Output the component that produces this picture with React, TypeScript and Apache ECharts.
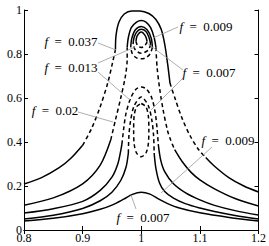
import React, { useEffect, useRef } from "react";
import * as echarts from "echarts";

// ---- data (x = frequency ratio, y = amplitude) ----
const xTicks = [0.8, 0.9, 1, 1.1, 1.2];
const yTicks = [0, 0.2, 0.4, 0.6, 0.8, 1];

// f = 0.037
const f037SolidL = [[0.80,0.209],[0.83,0.238],[0.86,0.283],[0.88,0.326],[0.90,0.385]];
const f037DashL = [[0.90,0.385],[0.915,0.46],[0.93,0.56],[0.943,0.67],[0.951,0.76],[0.956,0.82]];
const f037SolidTop = [[0.956,0.82],[0.957,0.885],[0.962,0.945],[0.971,0.982],[0.984,0.996],[0.998,0.996],[1.013,0.984],[1.025,0.957],[1.034,0.912],[1.04,0.845],[1.045,0.755],[1.049,0.668]];
const f037DashR = [[1.049,0.668],[1.058,0.595],[1.07,0.505],[1.084,0.425],[1.098,0.365],[1.11,0.33]];
const f037SolidR = [[1.11,0.33],[1.125,0.29],[1.15,0.237],[1.175,0.2],[1.2,0.173]];

// f = 0.02
const f02SolidL = [[0.80,0.113],[0.85,0.146],[0.90,0.21],[0.93,0.295],[0.948,0.41]];
const f02DashL = [[0.948,0.41],[0.956,0.5],[0.965,0.6],[0.973,0.7],[0.976,0.78],[0.976,0.83]];
const f02SolidTop = [[0.976,0.83],[0.978,0.875],[0.983,0.92],[0.992,0.945],[1.0,0.952],[1.008,0.945],[1.016,0.92],[1.022,0.875],[1.025,0.83]];
const f02DashR = [[1.025,0.83],[1.027,0.74],[1.031,0.65],[1.037,0.55],[1.045,0.45],[1.05,0.41],[1.057,0.365]];
const f02SolidR = [[1.057,0.365],[1.07,0.31],[1.085,0.262],[1.1,0.228],[1.125,0.187],[1.16,0.143],[1.2,0.109]];

// f = 0.013
const f013IsoSolid = [[0.982,0.83],[0.984,0.872],[0.99,0.91],[1.0,0.925],[1.01,0.91],[1.017,0.872],[1.019,0.83]];
const f013IsoDash = [[1.019,0.83],[1.015,0.8],[1.007,0.782],[1.0,0.778],[0.992,0.782],[0.985,0.8],[0.982,0.83]];
const f013SolidL = [[0.80,0.077],[0.85,0.097],[0.9,0.13],[0.93,0.18],[0.95,0.24],[0.96,0.3],[0.965,0.36],[0.967,0.39]];
const f013DashArch = [[0.967,0.39],[0.97,0.46],[0.974,0.53],[0.982,0.6],[0.991,0.64],[1.0,0.65],[1.009,0.64],[1.018,0.6],[1.024,0.53],[1.027,0.46],[1.029,0.39]];
const f013SolidR = [[1.029,0.39],[1.033,0.32],[1.04,0.265],[1.055,0.21],[1.075,0.17],[1.1,0.137],[1.125,0.112],[1.16,0.088],[1.2,0.068]];

// f = 0.009
const f009IsoSolid = [[0.986,0.845],[0.988,0.877],[0.993,0.902],[1.0,0.912],[1.008,0.902],[1.013,0.877],[1.016,0.845]];
const f009IsoDash = [[1.016,0.845],[1.012,0.818],[1.0,0.803],[0.99,0.818],[0.986,0.845]];
const f009SolidL = [[0.80,0.05],[0.85,0.067],[0.9,0.098],[0.93,0.133],[0.95,0.172],[0.965,0.225],[0.974,0.285],[0.978,0.35]];
const f009DashArch = [[0.978,0.35],[0.979,0.43],[0.982,0.5],[0.988,0.565],[1.0,0.605],[1.012,0.565],[1.018,0.5],[1.021,0.43],[1.022,0.35]];
const f009SolidR = [[1.022,0.35],[1.025,0.28],[1.031,0.215],[1.04,0.175],[1.055,0.145],[1.075,0.12],[1.1,0.1],[1.125,0.084],[1.16,0.066],[1.2,0.05]];

// f = 0.007
const f007IsoSolid = [[0.991,0.857],[0.993,0.882],[1.0,0.9],[1.007,0.882],[1.01,0.857]];
const f007IsoDash = [[1.01,0.857],[1.006,0.837],[1.0,0.83],[0.994,0.837],[0.991,0.857]];
const f007Ellipse = [[1.0,0.575],[1.008,0.56],[1.012,0.52],[1.013,0.455],[1.012,0.39],[1.008,0.35],[1.0,0.333],[0.992,0.35],[0.988,0.39],[0.987,0.455],[0.988,0.52],[0.992,0.56],[1.0,0.575]];
const f007Hump = [[0.80,0.041],[0.85,0.053],[0.9,0.074],[0.93,0.094],[0.95,0.113],[0.97,0.14],[0.985,0.162],[1.0,0.172],[1.015,0.163],[1.03,0.14],[1.045,0.12],[1.065,0.1],[1.1,0.078],[1.15,0.057],[1.2,0.041]];

const solidSegments = [f037SolidL, f037SolidTop, f037SolidR, f02SolidL, f02SolidTop, f02SolidR, f013IsoSolid, f013SolidL, f013SolidR, f009IsoSolid, f009SolidL, f009SolidR, f007IsoSolid, f007Hump];
const dashedSegments = [f037DashL, f037DashR, f02DashL, f02DashR, f013IsoDash, f013DashArch, f009IsoDash, f009DashArch, f007IsoDash, f007Ellipse];

// annotation label values
const labelTexts = ["0.037", "0.013", "0.02", "0.009", "0.007", "0.009", "0.007"];

const SERIF = "'Liberation Serif', 'DejaVu Serif', serif";

export default function App() {
  const ref = useRef<HTMLDivElement>(null);
  useEffect(() => {
    if (!ref.current) return;
    const chart = echarts.init(ref.current, null, { renderer: "svg" });
    const mk = (data: number[][], dashed: boolean) => ({
      type: "line",
      data,
      showSymbol: false,
      symbol: "none",
      smooth: 0.3,
      silent: true,
      lineStyle: { color: "#000", width: 1.5, type: dashed ? [4, 3] : "solid" },
    });
    const labelPos = [
      [71, 41], [71, 67], [55, 110], [206, 26], [209, 72], [228, 140], [143, 217],
    ];
    const pointers = [
      [98, 43, 116, 50], [98, 63, 135, 47], [98, 72, 130, 100], [78, 112, 113, 122],
      [178, 27, 153, 38], [183, 70, 147, 43], [183, 78, 151, 110], [212, 147, 161, 193],
      [136, 209, 131, 195],
    ];
    const axisCommon = {
      axisLine: { show: true, lineStyle: { color: "#000", width: 1 } },
      axisTick: { show: true, inside: true, length: 4, lineStyle: { color: "#000" } },
      splitLine: { show: false },
    };
    const fmt = (v: number) => String(+v.toFixed(1));
    chart.setOption({
      animation: false,
      backgroundColor: "#fff",
      grid: { left: 24, right: 10, top: 10, bottom: 16, containLabel: false },
      xAxis: [
        { type: "value", min: xTicks[0], max: xTicks[xTicks.length - 1], interval: 0.1, position: "bottom", ...axisCommon,
          axisLabel: { color: "#000", fontFamily: SERIF, fontSize: 12, margin: 2, formatter: fmt } },
        { type: "value", min: xTicks[0], max: xTicks[xTicks.length - 1], interval: 0.1, position: "top", ...axisCommon,
          axisLabel: { show: false } },
      ],
      yAxis: [
        { type: "value", min: yTicks[0], max: yTicks[yTicks.length - 1], interval: 0.2, position: "left", ...axisCommon,
          axisLabel: { color: "#000", fontFamily: SERIF, fontSize: 12, margin: 2, formatter: fmt } },
        { type: "value", min: yTicks[0], max: yTicks[yTicks.length - 1], interval: 0.2, position: "right", ...axisCommon,
          axisLabel: { show: false } },
      ],
      series: [
        ...solidSegments.map((d) => mk(d, false)),
        ...dashedSegments.map((d) => mk(d, true)),
      ],
      graphic: [
        ...pointers.map((p) => ({
          type: "line", silent: true, z: 10,
          shape: { x1: p[0], y1: p[1], x2: p[2], y2: p[3] },
          style: { stroke: "#999", lineWidth: 0.8 },
        })),
        ...labelTexts.map((t, i) => ({
          type: "text", z: 11, x: labelPos[i][0], y: labelPos[i][1],
          style: {
            text: "{i|f}\u2002=\u2002" + t,
            rich: { i: { fontStyle: "italic", fontFamily: SERIF, fontSize: 13, fill: "#000" } },
            fontFamily: SERIF, fontSize: 13, fill: "#000",
            align: "center", verticalAlign: "middle",
          },
        })),
      ],
    });
    return () => chart.dispose();
  }, []);
  return <div ref={ref} style={{ position: "fixed", left: 0, top: 0, width: 269, height: 246 }} />;
}
